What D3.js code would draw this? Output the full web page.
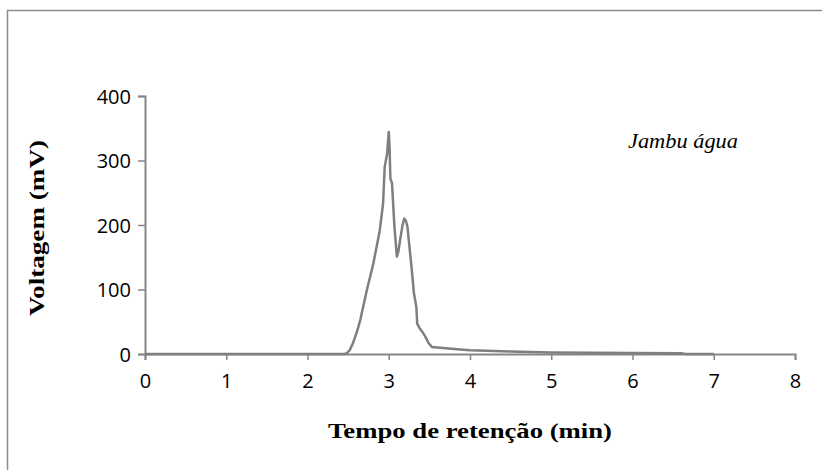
<!DOCTYPE html>
<html>
<head>
<meta charset="utf-8">
<script src="https://cdn.jsdelivr.net/npm/d3@7"></script>
<style>
  html, body { margin: 0; padding: 0; background: #fff; }
  svg { display: block; }
</style>
</head>
<body>
<svg id="chart" width="822" height="470"></svg>
<script>
// Chromatogram: retention time (min) vs detector voltage (mV)
const retentionTime = [0, 1, 2, 2.45, 2.48, 2.52, 2.56, 2.61, 2.65, 2.73, 2.81, 2.89, 2.93, 2.95, 2.98, 3.0,
  3.01, 3.02, 3.04, 3.07, 3.1, 3.12, 3.14, 3.17, 3.19, 3.21, 3.23, 3.28, 3.31, 3.34, 3.35, 3.38,
  3.41, 3.45, 3.49, 3.53, 3.7, 3.88, 4.0, 4.2, 4.5, 5.0, 5.5, 6.0, 6.6, 6.65, 7.0];
const voltage = [0, 0, 0, 0, 1, 6, 17, 35, 53, 99, 140, 192, 233, 290, 311, 344,
  320, 272, 265, 197, 151, 160, 177, 200, 210, 207, 197, 135, 94, 73, 47, 40,
  35, 27, 17, 11, 9, 7, 6, 5, 4, 2.5, 2, 1.5, 1, 0, 0];
const xTicks = [0, 1, 2, 3, 4, 5, 6, 7, 8];
const yTicks = [0, 100, 200, 300, 400];
const sampleLabel = "Jambu água";
const xTitle = "Tempo de retenção (min)";
const yTitle = "Voltagem (mV)";

const svg = d3.select("#chart");
const grey = "#868686";

// outer frame
svg.append("path")
  .attr("d", "M7.5,470 V10.5 H822")
  .attr("fill", "none").attr("stroke", "#8c8c8c").attr("stroke-width", 1.5);

const x = d3.scaleLinear().domain([0, 8]).range([145, 795]);
const y = d3.scaleLinear().domain([0, 400]).range([354, 96]);

const xAxis = svg.append("g").attr("transform", "translate(0,354)")
  .call(d3.axisBottom(x).tickValues(xTicks).tickFormat(d3.format("d")).tickSizeOuter(0).tickSize(6).tickPadding(14));
const yAxis = svg.append("g").attr("transform", "translate(145,0)")
  .call(d3.axisLeft(y).tickValues(yTicks).tickFormat(d3.format("d")).tickSizeOuter(0).tickSize(7).tickPadding(7));

[xAxis, yAxis].forEach(g => {
  g.select(".domain").attr("stroke", grey).attr("stroke-width", 2);
  g.selectAll(".tick line").attr("stroke", grey).attr("stroke-width", 1.5);
  g.selectAll(".tick text")
    .attr("fill", "#000")
    .style("font-family", "'Open Sans', sans-serif")
    .style("font-size", "20px");
});
yAxis.selectAll(".tick text").attr("dy", "0.35em");

// signal trace
const line = d3.line().x((d, i) => x(retentionTime[i])).y(d => y(d));
svg.append("path")
  .datum(voltage)
  .attr("d", line)
  .attr("fill", "none")
  .attr("stroke", "#7f7f7f")
  .attr("stroke-width", 2.5)
  .attr("stroke-linejoin", "round");

// axis titles (wide serif look: glyphs stretched to the set length)
svg.append("text")
  .attr("x", 470).attr("y", 438)
  .attr("text-anchor", "middle")
  .attr("textLength", 284)
  .attr("lengthAdjust", "spacingAndGlyphs")
  .style("font-family", "'Liberation Serif', serif")
  .style("font-weight", "bold")
  .style("font-size", "22px")
  .text(xTitle);

svg.append("text")
  .attr("transform", "translate(44,228) rotate(-90)")
  .attr("text-anchor", "middle")
  .attr("textLength", 176)
  .attr("lengthAdjust", "spacingAndGlyphs")
  .style("font-family", "'Liberation Serif', serif")
  .style("font-weight", "bold")
  .style("font-size", "22px")
  .text(yTitle);

// sample label
svg.append("text")
  .attr("x", 683).attr("y", 148)
  .attr("text-anchor", "middle")
  .attr("textLength", 110)
  .attr("lengthAdjust", "spacingAndGlyphs")
  .style("font-family", "'Liberation Serif', serif")
  .style("font-style", "italic")
  .style("font-size", "22px")
  .text(sampleLabel);
</script>
</body>
</html>
